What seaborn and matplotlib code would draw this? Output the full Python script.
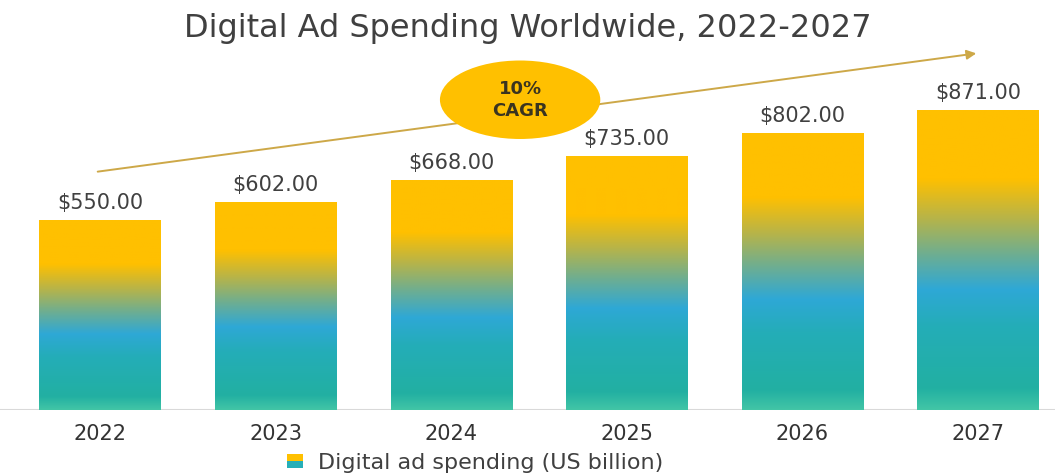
import numpy as np
import pandas as pd
import matplotlib
matplotlib.use("Agg")
import matplotlib.pyplot as plt
import seaborn as sns
from matplotlib.colors import LinearSegmentedColormap
from matplotlib.patches import Ellipse, Rectangle
from matplotlib.legend_handler import HandlerBase

# ---- data ----
years = ["2022", "2023", "2024", "2025", "2026", "2027"]
spending = [550, 602, 668, 735, 802, 871]
series_name = "Digital ad spending (US billion)"
title = "Digital Ad Spending Worldwide, 2022-2027"
cagr_text = "10%\nCAGR"

df = pd.DataFrame({"year": years, "value": spending})

sns.set_theme(style="white")
plt.rcParams["font.family"] = ["DejaVu Sans"]

fig = plt.figure(figsize=(10.55, 4.73), dpi=100)
ax = fig.add_axes([0.0, 1 - 410 / 473, 1.0, 365 / 473])

sns.barplot(data=df, x="year", y="value", color="#FFC000", width=0.69, ax=ax,
            saturation=1)

# gradient fill (fraction from bottom)
stops = [
    (0.00, "#42C5A6"),
    (0.07, "#22B0A2"),
    (0.28, "#24ADB8"),
    (0.40, "#2EA8D6"),
    (0.52, "#6FAE90"),
    (0.64, "#B8B448"),
    (0.77, "#FFC000"),
    (1.00, "#FFC000"),
]
cmap = LinearSegmentedColormap.from_list("grad", stops)
grad = np.linspace(0, 1, 256).reshape(-1, 1)

ax.set_xlim(-100 / 175.6, -100 / 175.6 + 1055 / 175.6)
ax.set_ylim(0, 365 / 0.345)

for p in ax.patches:
    x0, y0 = p.get_x(), p.get_y()
    w, h = p.get_width(), p.get_height()
    im = ax.imshow(grad, cmap=cmap, origin="lower", aspect="auto",
                   extent=[x0, x0 + w, y0, y0 + h], zorder=2,
                   interpolation="bilinear")
    im.set_clip_path(p)
    p.set_facecolor("none")
    p.set_edgecolor("none")

ax.set_xlim(-100 / 175.6, -100 / 175.6 + 1055 / 175.6)
ax.set_ylim(0, 365 / 0.345)

ax.bar_label(ax.containers[0], labels=[f"${v:,.2f}" for v in spending],
             padding=5, fontsize=15, color="#404040", zorder=5)

ax.axhline(0, color="#D9D9D9", lw=1.5, zorder=1)
for s in ax.spines.values():
    s.set_visible(False)
ax.set_yticks([])
ax.set_xlabel("")
ax.set_ylabel("")
ax.tick_params(axis="x", length=0, pad=10, labelsize=15, labelcolor="#333333")

# CAGR arrow and badge
ax.annotate("", xy=(0.928, 0.978), xytext=(0.090, 0.652),
            xycoords="axes fraction", textcoords="axes fraction",
            arrowprops=dict(arrowstyle="-|>", color="#CDA848", lw=1.4,
                            mutation_scale=14), zorder=3)
ell = Ellipse((0.493, 0.85), 0.152, 0.215, transform=ax.transAxes,
              facecolor="#FFC000", edgecolor="none", zorder=4, clip_on=False)
ax.add_patch(ell)
ax.text(0.493, 0.85, cagr_text, transform=ax.transAxes, ha="center",
        va="center", fontsize=13, fontweight="bold", color="#3A3420",
        zorder=5, linespacing=1.3)

fig.text(0.5, 1 - 29 / 473, title, ha="center", va="center", fontsize=23,
         color="#404040")


class GradHandler(HandlerBase):
    def create_artists(self, legend, orig_handle, xdescent, ydescent, width,
                       height, fontsize, trans):
        w = width * 0.75
        top = Rectangle((-xdescent, -ydescent + height * 0.5), w,
                        height * 0.5, facecolor="#FFC000", edgecolor="none",
                        transform=trans)
        bot = Rectangle((-xdescent, -ydescent), w, height * 0.5,
                        facecolor="#26AFB8", edgecolor="none", transform=trans)
        return [bot, top]


handle = Rectangle((0, 0), 1, 1)
fig.legend([handle], [series_name], handler_map={Rectangle: GradHandler()},
           loc="center", bbox_to_anchor=(0.45, 1 - 463 / 473), frameon=False,
           fontsize=16, labelcolor="#404040", handlelength=1.0,
           handleheight=0.55, handletextpad=0.4, borderpad=0.1)

fig.savefig("out.png", dpi=100)
